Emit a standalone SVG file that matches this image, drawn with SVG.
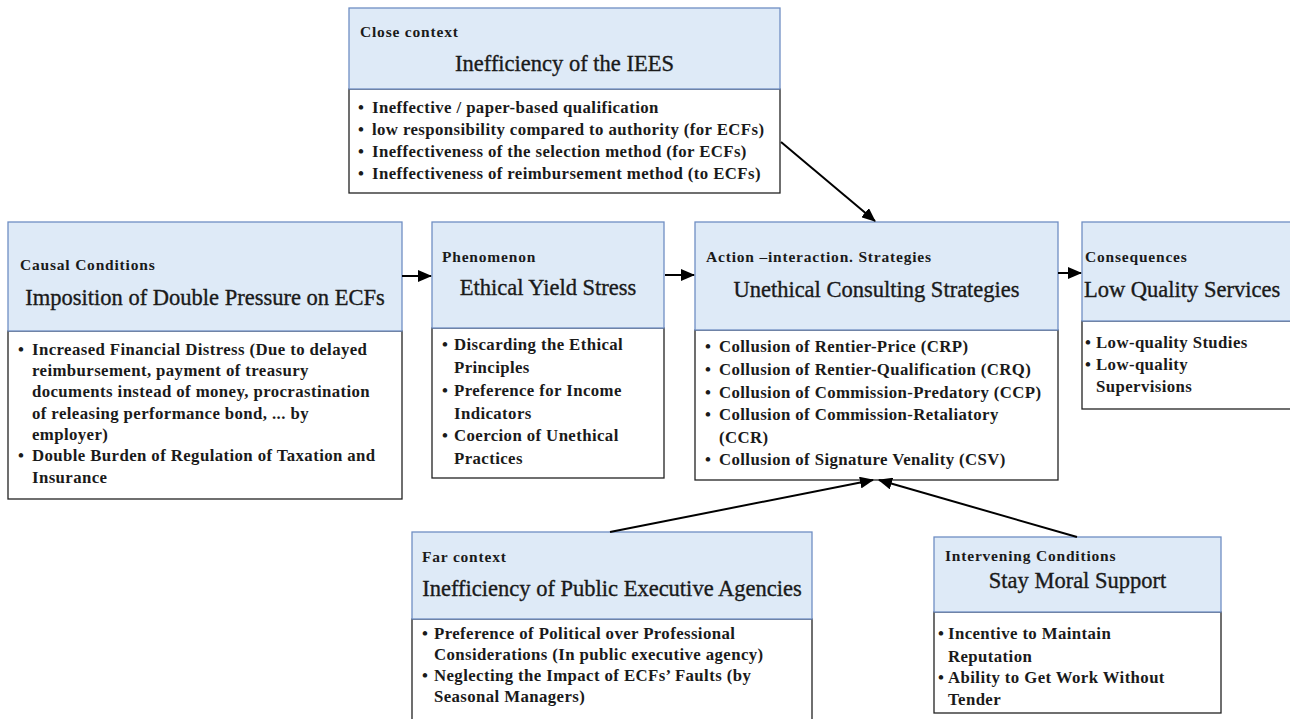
<svg xmlns="http://www.w3.org/2000/svg" width="1290" height="719" viewBox="0 0 1290 719">
<defs>
<marker id="ah" viewBox="0 0 14 12" refX="13" refY="6" markerWidth="14" markerHeight="12" markerUnits="userSpaceOnUse" orient="auto">
<path d="M0,0 L14,6 L0,12 Z" fill="#000"/>
</marker>
<style>
.hd{fill:#deeaf7;stroke:#6f8ec4;stroke-width:1.3}
.bd{fill:#fff;stroke:#222;stroke-width:1.3}
.lb{font-weight:bold;font-size:15.5px;letter-spacing:0.8px;fill:#1a1a1a}
.tt{font-size:22.5px;fill:#1a1a1a;stroke:#1a1a1a;stroke-width:0.35;text-anchor:middle}
.bl{font-weight:bold;font-size:16.8px;letter-spacing:0.4px;fill:#1a1a1a}
.cn{stroke:#000;stroke-width:2;fill:none}
</style>
</defs>
<rect width="1290" height="719" fill="#fff"/>
<g font-family="'Liberation Serif', 'Times New Roman', Times, serif">
<g id="close-context">
<rect class="bd" x="349" y="89" width="431" height="104"/>
<rect class="hd" x="349" y="8" width="431" height="81"/>
<text class="lb" x="360" y="37">Close context</text>
<text class="tt" x="564.5" y="71">Inefficiency of the IEES</text>
<text class="bl" x="358" y="113">•</text><text class="bl" x="372" y="113">Ineffective / paper-based qualification</text>
<text class="bl" x="358" y="135">•</text><text class="bl" x="372" y="135">low responsibility compared to authority (for ECFs)</text>
<text class="bl" x="358" y="157">•</text><text class="bl" x="372" y="157">Ineffectiveness of the selection method (for ECFs)</text>
<text class="bl" x="358" y="179">•</text><text class="bl" x="372" y="179">Ineffectiveness of reimbursement method (to ECFs)</text>
</g>

<g id="causal-conditions">
<rect class="bd" x="8" y="331" width="394" height="168"/>
<rect class="hd" x="8" y="222" width="394" height="109"/>
<text class="lb" x="20" y="270">Causal Conditions</text>
<text class="tt" x="205" y="305">Imposition of Double Pressure on ECFs</text>
<text class="bl" x="18" y="355">•</text><text class="bl" x="32" y="355">Increased Financial Distress (Due to delayed</text>
<text class="bl" x="32" y="376">reimbursement, payment of treasury</text>
<text class="bl" x="32" y="397">documents instead of money, procrastination</text>
<text class="bl" x="32" y="419">of releasing performance bond, ... by</text>
<text class="bl" x="32" y="440">employer)</text>
<text class="bl" x="18" y="461">•</text><text class="bl" x="32" y="461">Double Burden of Regulation of Taxation and</text>
<text class="bl" x="32" y="483">Insurance</text>
</g>

<g id="phenomenon">
<rect class="bd" x="432" y="328" width="232" height="150"/>
<rect class="hd" x="432" y="222" width="232" height="106"/>
<text class="lb" x="442" y="262">Phenomenon</text>
<text class="tt" x="548" y="295">Ethical Yield Stress</text>
<text class="bl" x="442" y="350">•</text><text class="bl" x="454" y="350">Discarding the Ethical</text>
<text class="bl" x="454" y="373">Principles</text>
<text class="bl" x="442" y="396">•</text><text class="bl" x="454" y="396">Preference for Income</text>
<text class="bl" x="454" y="419">Indicators</text>
<text class="bl" x="442" y="441">•</text><text class="bl" x="454" y="441">Coercion of Unethical</text>
<text class="bl" x="454" y="464">Practices</text>
</g>

<g id="action-strategies">
<rect class="bd" x="695" y="330" width="363" height="150"/>
<rect class="hd" x="695" y="222" width="363" height="108"/>
<text class="lb" x="706" y="262">Action –interaction. Strategies</text>
<text class="tt" x="876.5" y="297">Unethical Consulting Strategies</text>
<text class="bl" x="705" y="352">•</text><text class="bl" x="719" y="352">Collusion of Rentier-Price (CRP)</text>
<text class="bl" x="705" y="375">•</text><text class="bl" x="719" y="375">Collusion of Rentier-Qualification (CRQ)</text>
<text class="bl" x="705" y="398">•</text><text class="bl" x="719" y="398">Collusion of Commission-Predatory (CCP)</text>
<text class="bl" x="705" y="420">•</text><text class="bl" x="719" y="420">Collusion of Commission-Retaliatory</text>
<text class="bl" x="719" y="443">(CCR)</text>
<text class="bl" x="705" y="465">•</text><text class="bl" x="719" y="465">Collusion of Signature Venality (CSV)</text>
</g>

<g id="consequences">
<rect class="bd" x="1082" y="321" width="220" height="88"/>
<rect class="hd" x="1082" y="222" width="220" height="99"/>
<text class="lb" x="1085" y="262">Consequences</text>
<text class="tt" x="1084" y="297" style="text-anchor:start">Low Quality Services</text>
<text class="bl" x="1085" y="348">•</text><text class="bl" x="1096" y="348">Low-quality Studies</text>
<text class="bl" x="1085" y="370">•</text><text class="bl" x="1096" y="370">Low-quality</text>
<text class="bl" x="1096" y="392">Supervisions</text>
</g>

<g id="far-context">
<rect class="bd" x="412" y="619" width="400" height="110"/>
<rect class="hd" x="412" y="532" width="400" height="87"/>
<text class="lb" x="422" y="562">Far context</text>
<text class="tt" x="612" y="596">Inefficiency of Public Executive Agencies</text>
<text class="bl" x="422" y="639">•</text><text class="bl" x="434" y="639">Preference of Political over Professional</text>
<text class="bl" x="434" y="660">Considerations (In public executive agency)</text>
<text class="bl" x="422" y="681">•</text><text class="bl" x="434" y="681">Neglecting the Impact of ECFs’ Faults (by</text>
<text class="bl" x="434" y="702">Seasonal Managers)</text>
</g>

<g id="intervening-conditions">
<rect class="bd" x="934" y="612" width="287" height="101"/>
<rect class="hd" x="934" y="537" width="287" height="75"/>
<text class="lb" x="945" y="561">Intervening Conditions</text>
<text class="tt" x="1077.5" y="588">Stay Moral Support</text>
<text class="bl" x="938" y="639">•</text><text class="bl" x="948" y="639">Incentive to Maintain</text>
<text class="bl" x="948" y="662">Reputation</text>
<text class="bl" x="938" y="683">•</text><text class="bl" x="948" y="683">Ability to Get Work Without</text>
<text class="bl" x="948" y="705">Tender</text>
</g>
</g>
<g id="connectors">
<line class="cn" x1="402" y1="276" x2="431" y2="276" marker-end="url(#ah)"/>
<line class="cn" x1="665" y1="275" x2="694" y2="275" marker-end="url(#ah)"/>
<line class="cn" x1="1058" y1="273" x2="1081" y2="273" marker-end="url(#ah)"/>
<line class="cn" x1="781" y1="142" x2="875" y2="221" marker-end="url(#ah)"/>
<line class="cn" x1="610" y1="532" x2="873" y2="480" marker-end="url(#ah)"/>
<line class="cn" x1="1077" y1="537" x2="879" y2="480" marker-end="url(#ah)"/>
</g>
</svg>
